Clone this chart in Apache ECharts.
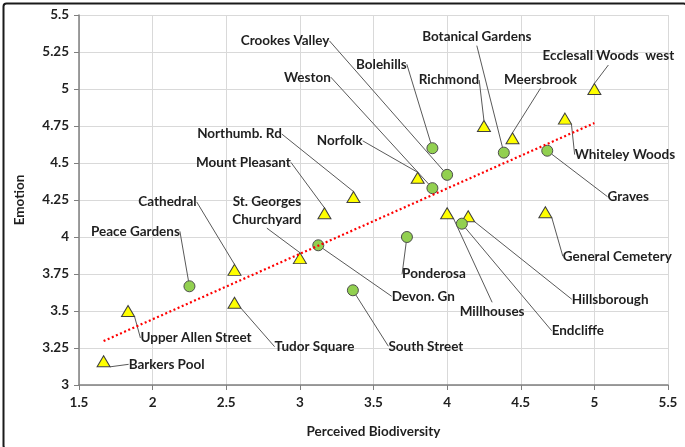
<!DOCTYPE html>
<html>
<head>
<meta charset="utf-8">
<script src="https://cdn.jsdelivr.net/npm/echarts@6/dist/echarts.min.js"></script>
<style>
html,body{margin:0;padding:0;background:#fff;}
#c{width:685px;height:447px;}
</style>
</head>
<body>
<div id="c"></div>
<script>
// Triangle sites
var triNames = ['Barkers Pool','Upper Allen Street','Cathedral','Tudor Square','St. Georges\nChurchyard','Mount Pleasant','Northumb. Rd','Norfolk','Millhouses','Hillsborough','Richmond','Meersbrook','General Cemetery','Whiteley Woods','Ecclesall Woods  west'];
var triX = [1.667, 1.833, 2.556, 2.556, 3.0, 3.167, 3.364, 3.8, 4.0, 4.143, 4.25, 4.444, 4.667, 4.8, 5.0];
var triY = [3.16, 3.5, 3.778, 3.556, 3.857, 4.16, 4.27, 4.4, 4.16, 4.14, 4.75, 4.667, 4.167, 4.8, 5.0];
// Circle sites
var cirNames = ['Peace Gardens','Devon. Gn','South Street','Ponderosa','Weston','Bolehills','Crookes Valley','Endcliffe','Botanical Gardens','Graves'];
var cirX = [2.25, 3.125, 3.36, 3.727, 3.9, 3.9, 4.0, 4.1, 4.385, 4.68];
var cirY = [3.667, 3.944, 3.64, 4.0, 4.33, 4.6, 4.42, 4.09, 4.57, 4.583];
// Trend line
var trendX = [1.667, 5.0];
var trendY = [3.297, 4.77];
// Axis ticks
var xTicks = [1.5, 2, 2.5, 3, 3.5, 4, 4.5, 5, 5.5];
var yTicks = [3, 3.25, 3.5, 3.75, 4, 4.25, 4.5, 4.75, 5, 5.25, 5.5];

// Label offsets (pixels from point centre to label centre)
var labelOffsets = {
  'Barkers Pool':[63,3],
  'Upper Allen Street':[68,27],
  'Cathedral':[-67,-68],
  'Tudor Square':[80,44],
  'St. Georges\nChurchyard':[-33,-48],
  'Mount Pleasant':[-81,-51],
  'Northumb. Rd':[-114,-63],
  'Norfolk':[-78,-37],
  'Millhouses':[45,98],
  'Hillsborough':[142,83],
  'Richmond':[-35,-46],
  'Meersbrook':[28,-59],
  'General Cemetery':[72,44],
  'Whiteley Woods':[60,36],
  'Ecclesall Woods  west':[14,-33],
  'Peace Gardens':[-54,-55],
  'Devon. Gn':[105,51],
  'South Street':[73,56],
  'Ponderosa':[27,37],
  'Weston':[-125,-111],
  'Bolehills':[-51,-84],
  'Crookes Valley':[-162,-134],
  'Endcliffe':[116,107],
  'Botanical Gardens':[-27,-116],
  'Graves':[81,46]
};

function zipData(names, xs, ys){
  return names.map(function(n,i){ return {name:n, value:[xs[i], ys[i]]}; });
}

var FONT = 'Lato';
var labelCfg = {
  show:true, position:'inside', formatter:'{b}', color:'#1f1f1f',
  fontFamily:FONT, fontWeight:'bold', fontSize:13.5, lineHeight:18, align:'center', verticalAlign:'middle'
};
var lineCfg = {show:true, lineStyle:{color:'#595959', width:1}};
function layoutFn(p){
  var o = labelOffsets[p.text] || [0,0];
  return {dx:o[0], dy:o[1]};
}

var chart = echarts.init(document.getElementById('c'), null, {renderer:'canvas'});
chart.setOption({
  animation:false,
  backgroundColor:'#fff',
  grid:{left:79, right:17, top:15, bottom:62, containLabel:false},
  xAxis:{
    type:'value', min:xTicks[0], max:xTicks[xTicks.length-1], interval:0.5,
    name:'Perceived Biodiversity', nameLocation:'middle', nameGap:40,
    nameTextStyle:{fontFamily:FONT, fontWeight:'bold', fontSize:13.5, color:'#1f1f1f'},
    axisLine:{show:true, onZero:false, lineStyle:{color:'#7f7f7f', width:1.5}},
    axisTick:{show:true, length:5, lineStyle:{color:'#7f7f7f'}},
    axisLabel:{fontFamily:FONT, fontWeight:'bold', fontSize:13.5, color:'#1f1f1f', margin:11},
    splitLine:{show:true, lineStyle:{color:'#d9d9d9', width:1}}
  },
  yAxis:{
    type:'value', min:yTicks[0], max:yTicks[yTicks.length-1], interval:0.25,
    name:'Emotion', nameLocation:'middle', nameGap:52,
    nameTextStyle:{fontFamily:FONT, fontWeight:'bold', fontSize:13.5, color:'#1f1f1f'},
    axisLine:{show:true, onZero:false, lineStyle:{color:'#7f7f7f', width:1.5}},
    axisTick:{show:true, length:5, lineStyle:{color:'#7f7f7f'}},
    axisLabel:{fontFamily:FONT, fontWeight:'bold', fontSize:13.5, color:'#1f1f1f', margin:10},
    splitLine:{show:true, lineStyle:{color:'#d9d9d9', width:1}}
  },
  graphic:[{
    type:'rect', left:1, top:1, z:100, silent:true,
    shape:{width:683, height:445, r:3},
    style:{fill:'none', stroke:'#1a1a1a', lineWidth:2}
  }],
  series:[
    {
      type:'scatter', name:'tri', symbol:'triangle', symbolSize:[13,11],
      data: zipData(triNames, triX, triY),
      itemStyle:{color:'#ffff00', borderColor:'#3f3f3f', borderWidth:1, opacity:1},
      label:labelCfg, labelLine:lineCfg, labelLayout:layoutFn,
      emphasis:{disabled:true}, z:3
    },
    {
      type:'scatter', name:'cir', symbol:'circle', symbolSize:11,
      data: zipData(cirNames, cirX, cirY),
      itemStyle:{color:'#92d050', borderColor:'#4d4d4d', borderWidth:1, opacity:1},
      label:labelCfg, labelLine:lineCfg, labelLayout:layoutFn,
      emphasis:{disabled:true}, z:3
    },
    {
      type:'line', name:'trend', showSymbol:false, symbol:'none',
      data: trendX.map(function(x,i){ return [x, trendY[i]]; }),
      lineStyle:{color:'#ff0000', width:2.2, type:[2,2.5]},
      emphasis:{disabled:true}, z:5, silent:true
    }
  ]
});
</script>
</body>
</html>
